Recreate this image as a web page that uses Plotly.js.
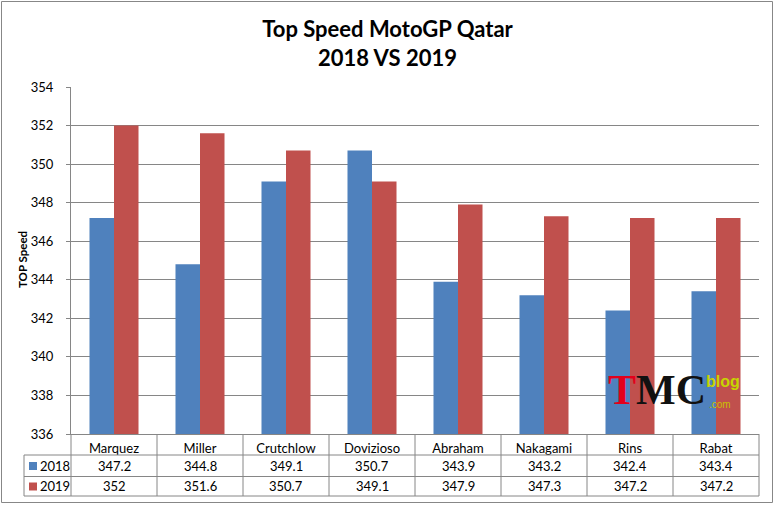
<!DOCTYPE html>
<html>
<head>
<meta charset="utf-8">
<script src="https://cdn.plot.ly/plotly-3.0.1.min.js"></script>
<style>
  html, body { margin: 0; padding: 0; background: #fff; }
  #chart { width: 775px; height: 505px; }
</style>
</head>
<body>
<div id="chart"></div>
<script>
const riders = ["Marquez", "Miller", "Crutchlow", "Dovizioso", "Abraham", "Nakagami", "Rins", "Rabat"];
const speed2018 = [347.2, 344.8, 349.1, 350.7, 343.9, 343.2, 342.4, 343.4];
const speed2019 = [352, 351.6, 350.7, 349.1, 347.9, 347.3, 347.2, 347.2];
const seriesNames = ["2018", "2019"];
const yTicks = [336, 338, 340, 342, 344, 346, 348, 350, 352, 354];

const blue = "#4f81bd";
const red = "#c0504d";
const gridColor = "#868686";
const fontFamily = "Lato, 'Open Sans', sans-serif";

// plot area in pixels: x 71..759, y 87..434
const plotTop = 87, plotBottom = 434;
const plotH = plotBottom - plotTop;
const plotL = 71, plotR = 759;
const plotW = plotR - plotL;
const py = (p) => (plotBottom - p) / plotH;   // pixel y -> paper y
const px = (p) => (p - plotL) / plotW;        // pixel x -> paper x

const traces = [
  { type: "bar", name: seriesNames[0], x: riders, y: speed2018, marker: { color: blue }, hoverinfo: "x+y" },
  { type: "bar", name: seriesNames[1], x: riders, y: speed2019, marker: { color: red }, hoverinfo: "x+y" },
];

// data table drawn under the axis
const shapes = [];
const annotations = [];
const line = { color: gridColor, width: 1 };
const rowLines = [455, 476.5, 496];
rowLines.forEach((p) => {
  shapes.push({ type: "line", xref: "paper", yref: "paper", x0: px(24), x1: 1, y0: py(p), y1: py(p), line });
});
for (let i = 0; i <= riders.length; i++) {
  shapes.push({ type: "line", xref: "paper", yref: "paper", x0: i / riders.length, x1: i / riders.length, y0: 0, y1: py(496), line });
}
shapes.push({ type: "line", xref: "paper", yref: "paper", x0: px(24), x1: px(24), y0: py(455), y1: py(496), line });

// outer chart border
shapes.push({ type: "rect", xref: "paper", yref: "paper", x0: px(1.5), x1: px(772.5), y0: py(1.5), y1: py(502.5), line: { color: "#878787", width: 1 } });

const rows = [speed2018, speed2019];
const rowCenters = [466, 486.5];
const keyColors = [blue, red];
rows.forEach((vals, r) => {
  const yc = rowCenters[r];
  shapes.push({ type: "rect", xref: "paper", yref: "paper", x0: px(29), x1: px(37), y0: py(yc - 4), y1: py(yc + 4), fillcolor: keyColors[r], line: { width: 0 } });
  annotations.push({ xref: "paper", yref: "paper", x: px(37.5), y: py(yc), xanchor: "left", yanchor: "middle", text: seriesNames[r], showarrow: false, font: { family: fontFamily, size: 13, color: "#000" } });
  vals.forEach((v, i) => {
    annotations.push({ xref: "x", yref: "paper", x: riders[i], y: py(yc), xanchor: "center", yanchor: "middle", text: String(v), showarrow: false, font: { family: fontFamily, size: 13, color: "#000" } });
  });
});

// y axis title, placed by hand like the reference
annotations.push({ xref: "paper", yref: "paper", x: px(22), y: py(260), xanchor: "center", yanchor: "middle", showarrow: false, textangle: -90,
  text: "<b>TOP Speed</b>", font: { family: fontFamily, size: 11.5, color: "#000" } });

// watermark logo
annotations.push({ xref: "paper", yref: "paper", x: px(606), y: py(390), xanchor: "left", yanchor: "middle", showarrow: false,
  text: '<b><span style="color:#e3001b">T</span><span style="color:#111">MC</span></b>',
  font: { family: "'Liberation Serif', serif", size: 42 } });
annotations.push({ xref: "paper", yref: "paper", x: px(705), y: py(381), xanchor: "left", yanchor: "middle", showarrow: false, borderpad: 0,
  text: "<b>blog</b>", font: { family: "'Liberation Sans', sans-serif", size: 16, color: "#c8d400" } });
annotations.push({ xref: "paper", yref: "paper", x: px(708), y: py(404), xanchor: "left", yanchor: "middle", showarrow: false, borderpad: 0,
  text: ".com", font: { family: "'Liberation Sans', sans-serif", size: 10, color: "#c9c000" } });

const layout = {
  width: 775,
  height: 505,
  margin: { l: plotL, r: 775 - plotR, t: plotTop, b: 505 - plotBottom, pad: 0 },
  paper_bgcolor: "#fff",
  plot_bgcolor: "#fff",
  showlegend: false,
  barmode: "group",
  bargap: 0.43,
  bargroupgap: 0,
  title: {
    text: "<b>Top Speed MotoGP Qatar<br>2018 VS 2019</b>",
    font: { family: fontFamily, size: 22, color: "#000" },
    x: 0.5, xref: "container", xanchor: "center",
    y: 1 - 37 / 505, yref: "container", yanchor: "middle",
  },
  xaxis: {
    type: "category",
    showgrid: false,
    showline: true,
    linecolor: gridColor,
    ticks: "",
    tickfont: { family: fontFamily, size: 13, color: "#000" },
    ticklabelstandoff: 2,
    fixedrange: true,
  },
  yaxis: {
    range: [336, 354],
    tickvals: yTicks,
    showgrid: true,
    gridcolor: gridColor,
    showline: true,
    linecolor: gridColor,
    ticks: "outside",
    ticklen: 4,
    tickcolor: gridColor,
    ticklabelstandoff: 10,
    tickfont: { family: fontFamily, size: 13, color: "#000" },
    zeroline: false,
    fixedrange: true,
  },
  shapes,
  annotations,
};

Plotly.newPlot("chart", traces, layout, { displayModeBar: false, staticPlot: true });
</script>
</body>
</html>
